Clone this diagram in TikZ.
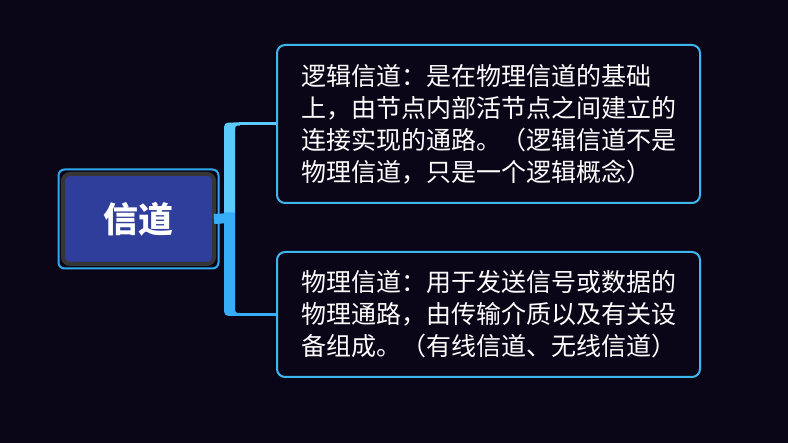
\documentclass[tikz,border=0pt]{standalone}
\usepackage{fontspec}
\newfontfamily\cjk{Noto Sans CJK SC}
\usetikzlibrary{calc}
\definecolor{bgc}{HTML}{0B0617}
\definecolor{boxline}{HTML}{3DB7EE}
\definecolor{upc}{HTML}{5CCBFB}
\definecolor{lowc}{HTML}{38ADF7}
\definecolor{rootline}{HTML}{2FA8EC}
\definecolor{rootgray}{HTML}{363636}
\definecolor{rootblue}{HTML}{2F3E9B}
\tikzset{
  leafbox/.style={draw=boxline, line width=2pt, rounded corners=8pt, fill=bgc,
    minimum width=423pt, text=white, align=left, inner sep=0pt,
    font=\cjk\fontsize{25}{32}\selectfont},
  rootbox/.style={draw=rootgray, line width=4pt, fill=rootblue, rounded corners=7pt,
    minimum width=151pt, minimum height=90pt, text=white, outer sep=0pt,
    font=\cjk\bfseries\fontsize{35}{40}\selectfont},
}
\begin{document}
\begin{tikzpicture}[x=1pt,y=-1pt]
\fill[bgc] (0,0) rectangle (788,443);
\useasboundingbox (0,0) rectangle (788,443);

\node[rootbox] (root) at (138.5,219) {信道};
\draw[rootline, line width=2pt, rounded corners=6pt]
  ($(root.north west)+(-4.5,-4.5)$) rectangle ($(root.south east)+(4.5,4.5)$);

\node[leafbox, minimum height=158pt] (top) at (488.5,124)
  {逻辑信道：是在物理信道的基础\\上，由节点内部活节点之间建立的\\连接实现的通路。（逻辑信道不是\\物理信道，只是一个逻辑概念）};
\node[leafbox, minimum height=125pt] (bot) at (488.5,314.5)
  {物理信道：用于发送信号或数据的\\物理通路，由传输介质以及有关设\\备组成。（有线信道、无线信道）};

\coordinate (j) at (229.5,218);
% upper branch
\fill[upc] (224,213) -- (224,132.5) .. controls (224,122.5) .. (234,122.5)
  -- (240,122.5) -- (240,125.5) .. controls (235,125.5) .. (235,134) -- (235,213) -- cycle;
\draw[upc, line width=3pt] (239,124) -- (top.west);
% lower branch
\fill[lowc] (224,212.5) -- (224,306) .. controls (224,316) .. (234,316)
  -- (240,316) -- (240,313) .. controls (235,313) .. (235,304) -- (235,212.5) -- cycle;
\draw[lowc, line width=3pt] (239,314.5) -- (bot.west);
% stub
\draw[lowc, line width=10pt] (root.east) -- (j);
\end{tikzpicture}
\end{document}
